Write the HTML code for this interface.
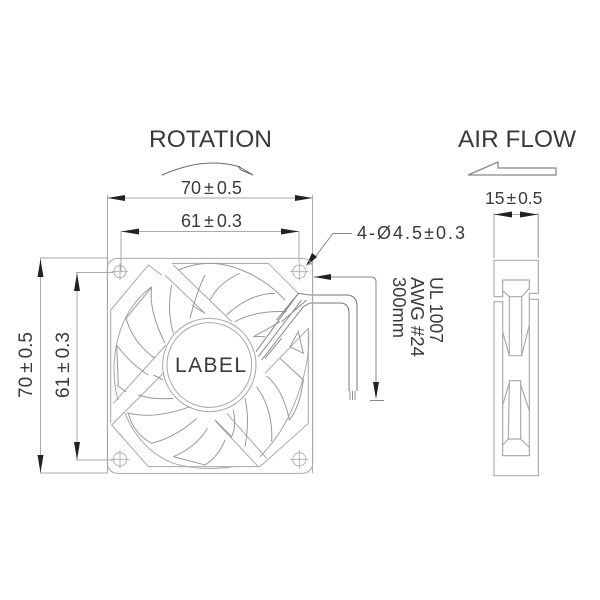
<!DOCTYPE html>
<html><head><meta charset="utf-8"><style>
html,body{margin:0;padding:0;background:#fff}
svg{display:block}
text{font-family:"Liberation Sans",sans-serif;fill:#3a3a3a}
</style></head><body>
<svg width="600" height="600" viewBox="0 0 600 600">
<rect width="600" height="600" fill="#fff"/>
<!-- Titles -->
<text x="149" y="147" font-size="24" textLength="123" lengthAdjust="spacingAndGlyphs">ROTATION</text>
<text x="458" y="147" font-size="24" textLength="118" lengthAdjust="spacingAndGlyphs">AIR FLOW</text>
<!-- Rotation arrow -->
<path d="M162 175Q205 156 240 167" fill="none" stroke="#666" stroke-width="1"/>
<path d="M238 166L253 175L241 170Z" fill="#fff" stroke="#666" stroke-width="1"/>
<!-- Airflow arrow -->
<path d="M468 175L498 162V168H556V175Z" fill="#fff" stroke="#888" stroke-width="1.300"/>
<!-- Dimension lines -->
<g fill="none" stroke="#aaa" stroke-width="1">
<path d="M107.500 195V473M312.500 195V473"/>
<path d="M107.500 198H312.500"/>
<path d="M121 231V272M299 231V262"/>
<path d="M121 231.500H299"/>
<path d="M40 258H108M40 473H108M40.500 258V473"/>
<path d="M76 272.500H113M76 460H113M77 272V460"/>
<path d="M494 213V258M538 213V258M494 214.500H538"/>
<path d="M309 265L333 233.500H352" stroke="#888"/>
<path d="M314 277H371Q376 277 376 282V395" stroke="#888"/>
<path d="M370 400.500H384" stroke="#888"/>
</g>
<g fill="#222">
<path d="M107.500 198L125 195V201Z"/><path d="M312.500 198L295 195V201Z"/>
<path d="M121 231.500L139 228.500V234.500Z"/><path d="M299 231.500L281 228.500V234.500Z"/>
<path d="M40.500 259L37.500 277H43.500Z"/><path d="M40.500 473L37.500 455H43.500Z"/>
<path d="M77 273L74 291H80Z"/><path d="M77 460L74 442H80Z"/>
<path d="M494 214.500L512 211.500V217.500Z"/><path d="M538 214.500L520 211.500V217.500Z"/>
<path d="M306 266L312 253L317 257Z"/>
<path d="M314 277L331 274V280Z"/>
<path d="M376 399L373 382H379Z"/>
</g>
<!-- Dimension labels -->
<g font-size="18">
<text x="181" y="194">70<tspan dx="3">±</tspan><tspan dx="3">0.5</tspan></text>
<text x="181" y="227">61<tspan dx="3">±</tspan><tspan dx="3">0.3</tspan></text>
<text x="485" y="204" font-size="17.500">15<tspan dx="2">±</tspan><tspan dx="2">0.5</tspan></text>
<text x="357" y="239" textLength="108">4-Ø4.5±0.3</text>
<text transform="translate(32,398) rotate(-90)" font-size="19">70<tspan dx="4">±</tspan><tspan dx="4">0.5</tspan></text>
<text transform="translate(69,398) rotate(-90)" font-size="19">61<tspan dx="4">±</tspan><tspan dx="4">0.3</tspan></text>
<text transform="translate(430,277) rotate(90)" textLength="66" lengthAdjust="spacingAndGlyphs">UL 1007</text>
<text transform="translate(411,277) rotate(90)" textLength="80" lengthAdjust="spacingAndGlyphs">AWG #24</text>
<text transform="translate(393,277) rotate(90)" textLength="61" lengthAdjust="spacingAndGlyphs">300mm</text>
</g>
<!-- Wires -->
<g fill="none" stroke="#777" stroke-width="1">
<path d="M310 295H346Q357 295 357 306V391"/>
<path d="M310 303H340Q349 303 349 313V391"/>
</g>
<path d="M350 391V400M352.500 391V400M355 391V400" stroke="#666" stroke-width=".7"/>
<!-- Fan, coordinates taken from 3x crop -->
<g transform="translate(90,250) scale(.33333)" fill="none" stroke="#a8a8a8" stroke-width="3">
<rect x="52" y="25" width="616" height="645" rx="30"/>
<path d="M62 180L175 45L215 75M245 40H535L625 130M655 235V520L510 650H250M100 490L65 525L175 650H250"/>
<path d="M62 180V520"/>
<!-- rim -->
<path d="M265 60Q358 20 455 60Q530 90 585 150" stroke="#999"/>
<path d="M185 110Q80 190 72 345Q72 420 85 450"/>
<path d="M655 235Q665 345 605 480Q570 560 510 620"/>
<path d="M105 490Q150 600 250 640Q330 665 430 650"/>
<!-- struts -->
<path d="M225 75L345 190M250 45L425 215"/>
<path d="M378 515L505 650M410 490L530 625"/>
<path d="M228 285L70 460M225 365L100 490"/>
<path d="M525 370L655 235"/>
<!-- hub -->
<circle cx="358" cy="345" r="140" fill="#fff"/>
<circle cx="358" cy="345" r="127"/>
<!-- holes -->
<g stroke-width="2.500">
<circle cx="90" cy="65" r="18"/><path d="M65 65H115M90 40V90"/>
<circle cx="628" cy="65" r="20"/><path d="M600 65H655M628 38V92"/>
<circle cx="90" cy="628" r="20"/><path d="M62 628H118M90 600V656"/>
<circle cx="628" cy="628" r="20"/><path d="M600 628H655M628 600V656"/>
</g>
<!-- blades -->
<g stroke="#999">
<path d="M345 75Q320 125 300 205M305 165L345 190"/>
<path d="M450 70Q390 95 360 150M555 130Q480 130 410 195"/>
<path d="M590 185Q500 180 435 215M570 215Q530 240 490 260H525"/>
<path d="M245 105Q230 180 250 250"/>
<path d="M185 112L108 205Q130 280 195 325"/>
<path d="M185 112Q175 180 225 280"/>
<path d="M80 285Q120 340 175 375M80 285L85 405"/>
<path d="M80 405L108 425M145 435Q190 450 250 445M190 375L220 390"/>
<path d="M110 488Q190 510 300 470"/>
<path d="M115 490Q130 550 185 580Q260 560 320 505"/>
<path d="M250 620Q320 590 352 535M250 620L345 645Q385 620 405 570"/>
<path d="M375 510L425 560Q440 530 430 480M465 445Q480 510 465 590"/>
<path d="M500 410Q550 480 545 575"/>
<path d="M530 378Q580 420 598 510Q630 470 640 390L570 325"/>
<path d="M625 245L600 290L640 310Z"/>
</g>
<!-- wire bundle -->
<g stroke="#888">
<path d="M498 305L625 130L660 135M515 330L640 170L660 159"/>
<path d="M560 210L625 130M575 215L650 150M505 320L635 150M525 325L575 265"/>
</g>
</g>
<text x="175" y="372" font-size="21" textLength="71" lengthAdjust="spacing">LABEL</text>
<!-- Side view, coords from 3x crop -->
<g transform="translate(470,200) scale(.33333)" fill="none" stroke="#aaa" stroke-width="3.500">
<path d="M72 40V172M205 40V172"/>
<path d="M100 290H72V181H205V280H178V298H205V827H72V305H100"/>
<path d="M98 290V240H178V270M98 305V767H178V298"/>
<path d="M98 272L118 290H155L178 265"/>
<path d="M118 290V467H155V290"/>
<path d="M98 395L118 467M155 467L178 375"/>
<path d="M118 542H152V717H115Z"/>
<path d="M118 548L98 615M152 555L178 632"/>
<path d="M115 717L98 735M152 717L178 742"/>
</g>
</svg>
</body></html>
